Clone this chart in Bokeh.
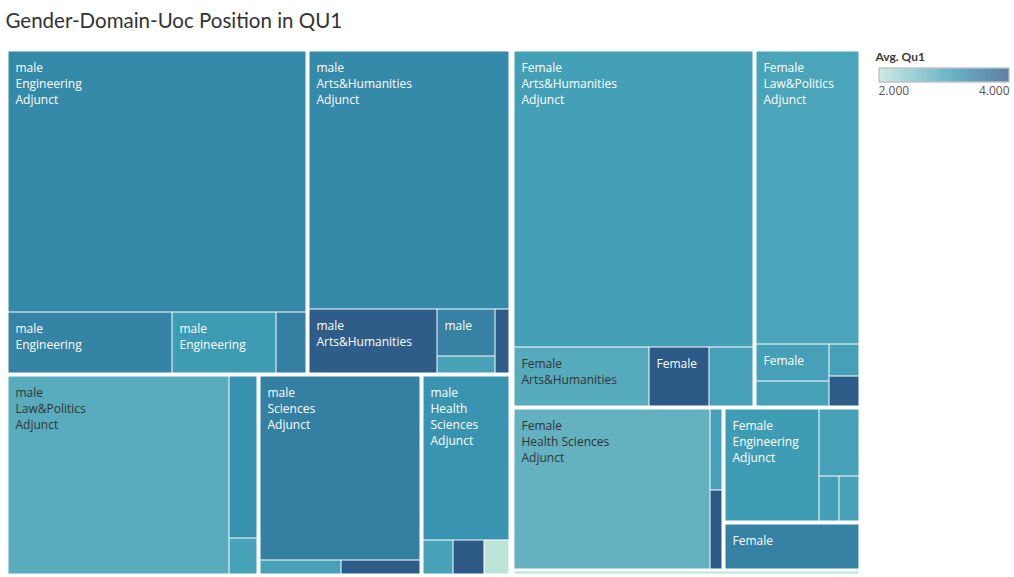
import math
from bokeh.plotting import figure
from bokeh.models import Range1d, LinearColorMapper, ColumnDataSource
from bokeh.core.properties import value
from bokeh.embed import file_html
from bokeh.resources import INLINE

# ---------------- data ----------------
genders = ["male"] * 19 + ["Female"] * 17 + ["Other"]
domains = (["Engineering"] * 4 + ["Arts&Humanities"] * 5 + ["Law&Politics"] * 3
           + ["Sciences"] * 3 + ["Health Sciences"] * 4
           + ["Arts&Humanities"] * 4 + ["Law&Politics"] * 5 + ["Health Sciences"] * 3
           + ["Engineering"] * 4 + ["Sciences"] * 1
           + ["Arts&Humanities"])
positions = (["Adjunct", "Assistant", "Associate", "Professor"]
             + ["Adjunct", "Assistant", "Associate", "Professor", "Lecturer"]
             + ["Adjunct", "Assistant", "Associate"]
             + ["Adjunct", "Assistant", "Associate"]
             + ["Adjunct", "Assistant", "Associate", "Professor"]
             + ["Adjunct", "Assistant", "Associate", "Professor"]
             + ["Adjunct", "Assistant", "Associate", "Professor", "Lecturer"]
             + ["Adjunct", "Assistant", "Associate"]
             + ["Adjunct", "Assistant", "Associate", "Professor"]
             + ["Adjunct"]
             + ["Adjunct"])
sizes = [77740, 10269, 6552, 2016,
         52428, 8514, 2736, 1110, 1104,
         43780, 4890, 1080,
         30155, 1148, 1134,
         14850, 1065, 1055, 940,
         71788, 8361, 3635, 2848,
         30221, 2744, 1975, 985, 975,
         32472, 1110, 1104,
         10935, 2720, 932, 928,
         6707,
         694]
avg_qu1 = [3.33, 3.40, 3.10, 3.47,
           3.33, 3.93, 3.42, 2.99, 3.95,
           2.84, 3.22, 2.99,
           3.45, 2.99, 3.95,
           3.18, 2.99, 4.00, 2.00,
           3.03, 2.86, 3.98, 3.00,
           2.95, 3.00, 2.99, 3.00, 3.95,
           2.76, 3.00, 3.98,
           3.08, 3.00, 3.02, 3.00,
           3.42,
           2.00]

title_text = "Gender-Domain-Uoc Position in QU1"
legend_title = "Avg. Qu1"
legend_low, legend_high = 2.0, 4.0
legend_tick_labels = ["2.000", "4.000"]

# Tableau "Blue-Teal" sequential ramp
ramp = ["#bce4d8", "#aedcd5", "#a1d5d2", "#95cecf", "#89c8cc", "#7ec1ca", "#72bac6",
        "#66b2c2", "#59acbe", "#4ba5ba", "#419eb6", "#3b96b2", "#358ead", "#3586a7",
        "#347ea1", "#32779b", "#316f96", "#2f6790", "#2d608a", "#2c5985"]


def hex2rgb(h):
    h = h.lstrip("#")
    return tuple(int(h[i:i + 2], 16) for i in (0, 2, 4))


def build_palette(stops, n=256):
    rgb = [hex2rgb(s) for s in stops]
    out = []
    for k in range(n):
        f = k / (n - 1) * (len(rgb) - 1)
        i = min(int(f), len(rgb) - 2)
        t = f - i
        c = [round(rgb[i][j] + (rgb[i + 1][j] - rgb[i][j]) * t) for j in range(3)]
        out.append("#%02x%02x%02x" % tuple(c))
    return out


palette = build_palette(ramp)
mapper = LinearColorMapper(palette=palette, low=legend_low, high=legend_high)

# ---------------- squarified layout ----------------
T_ASPECT = 3.52
W, H = 1014, 576
BOX = (8.0, 51.0, 850.0, 522.0)   # x, y, w, h (pixel units, y downward)


def worst(vals, L):
    t = sum(vals) / L
    r = 0.0
    for a in vals:
        l = a / t
        r = max(r, t / l, l / t)
    return r


def squarify(vals, rect):
    x, y, w, h = rect
    scale = w * h / sum(vals)
    areas = [v * scale for v in vals]
    out = []
    i = 0
    while i < len(areas):
        L = min(w, h)
        row = [areas[i]]
        j = i + 1
        while j < len(areas):
            cand = row + [areas[j]]
            if worst(cand, L) <= max(worst(row, L), T_ASPECT):
                row = cand
                j += 1
            else:
                break
        s = sum(row)
        if w <= h:
            t = s / w
            cx = x
            for a in row:
                lw = a / t
                out.append((cx, y, lw, t))
                cx += lw
            y += t
            h -= t
        else:
            t = s / h
            cy = y
            for a in row:
                lh = a / t
                out.append((x, cy, t, lh))
                cy += lh
            x += t
            w -= t
        i = j
    return out


tree = {}
for idx, (g, d) in enumerate(zip(genders, domains)):
    tree.setdefault(g, {}).setdefault(d, []).append(idx)


def gsum(g):
    return sum(sizes[i] for d in tree[g] for i in tree[g][d])


placed = []  # (leaf index, leaf rect, domain rect, gender rect)
g_names = sorted(tree, key=lambda g: -gsum(g))
for g, grect in zip(g_names, squarify([gsum(g) for g in g_names], BOX)):
    d_names = sorted(tree[g], key=lambda d: -sum(sizes[i] for i in tree[g][d]))
    d_rects = squarify([sum(sizes[i] for i in tree[g][d]) for d in d_names], grect)
    for d, drect in zip(d_names, d_rects):
        leaves = sorted(tree[g][d], key=lambda i: -sizes[i])
        l_rects = squarify([sizes[i] for i in leaves], drect)
        for i, lrect in zip(leaves, l_rects):
            placed.append((i, lrect, drect, grect))


def edges(r):
    x, y, w, h = r
    return x, y, x + w, y + h


def rnd(v):
    return math.floor(v + 0.5)


def near(a, b):
    return abs(a - b) < 0.01


def gap_at(v, dvals, gvals, ovals):
    if any(near(v, o) for o in ovals):
        return 0
    if any(near(v, q) for q in gvals):
        return 6
    if any(near(v, q) for q in dvals):
        return 4
    return 1


ob = edges(BOX)
cells = dict(left=[], right=[], top=[], bottom=[], qu1=[])
labels = dict(x=[], y=[], text=[], color=[])

CW = {'a': 6.6, 'b': 7.3, 'c': 5.7, 'd': 7.3, 'e': 6.7, 'f': 4.0, 'g': 6.5, 'h': 7.3,
      'i': 3.1, 'j': 3.1, 'k': 6.3, 'l': 3.1, 'm': 11.1, 'n': 7.3, 'o': 7.2, 'p': 7.3,
      'q': 7.3, 'r': 4.8, 's': 5.7, 't': 4.3, 'u': 7.3, 'v': 6.2, 'w': 9.4, 'x': 6.3,
      'y': 6.2, 'z': 5.6, ' ': 3.1, '&': 8.8, '-': 3.9, '.': 3.2, 'A': 7.8, 'E': 6.8,
      'F': 6.3, 'H': 9.1, 'L': 6.2, 'P': 7.2, 'S': 6.5, 'M': 11.2, 'I': 3.5}


def tw(s):
    return sum(CW.get(c, 7.8) for c in s)


def fit_lines(parts, w, h):
    lines = []
    for part in parts:
        if tw(part) + 14 <= w:
            lines.append(part)
            continue
        words = part.split(" ")
        if any(tw(wd) + 14 > w for wd in words):
            break
        cur = words[0]
        for wd in words[1:]:
            if tw(cur + " " + wd) + 14 <= w:
                cur = cur + " " + wd
            else:
                lines.append(cur)
                cur = wd
        lines.append(cur)
    max_n = int((h - 17) // 16) if h >= 33 else 0
    return lines[:max_n]


for i, lr, dr, gr in placed:
    L, T_, R, B = edges(lr)
    de = edges(dr)
    ge = edges(gr)
    gx = lambda v: gap_at(v, (de[0], de[2]), (ge[0], ge[2]), (ob[0], ob[2]))
    gy = lambda v: gap_at(v, (de[1], de[3]), (ge[1], ge[3]), (ob[1], ob[3]))
    x0 = rnd(L) + math.ceil(gx(L) / 2)
    x1 = rnd(R) - gx(R) // 2
    y0 = rnd(T_) + math.ceil(gy(T_) / 2)
    y1 = rnd(B) - gy(B) // 2
    if x1 - x0 < 1:
        x0, x1 = rnd(L), max(rnd(R), rnd(L) + 1)
    if y1 - y0 < 1:
        y0, y1 = rnd(T_), max(rnd(B), rnd(T_) + 1)
    cells["left"].append(x0)
    cells["right"].append(x1)
    cells["top"].append(y0)
    cells["bottom"].append(y1)
    cells["qu1"].append(avg_qu1[i])
    lines = fit_lines([genders[i], domains[i], positions[i]], x1 - x0, y1 - y0)
    col = "#333333" if avg_qu1[i] < 2.9 else "#ffffff"
    for k, ln in enumerate(lines):
        labels["x"].append(x0 + 7)
        labels["y"].append(y0 + 15.5 + 16 * k)
        labels["text"].append(ln)
        labels["color"].append(col)

# ---------------- figure ----------------
p = figure(width=W, height=H, x_range=Range1d(0, W), y_range=Range1d(H, 0),
           output_backend="svg", toolbar_location=None, min_border=0,
           x_axis_location=None, y_axis_location=None, title=None)
p.grid.visible = False
p.outline_line_color = None
p.background_fill_color = "white"
p.border_fill_color = "white"

p.quad(left="left", right="right", top="top", bottom="bottom",
       source=ColumnDataSource(cells),
       fill_color={"field": "qu1", "transform": mapper}, line_color=None)

p.text(x="x", y="y", text="text", source=ColumnDataSource(labels),
       text_color="color", text_font=value("Open Sans"), text_font_size="12px",
       text_baseline="alphabetic", text_align="left")

# title
p.text(x=[5], y=[19.5], text=[title_text], text_font=value("Lato"),
       text_font_size="20.5px", text_color="#333333", text_baseline="alphabetic")

# legend (continuous colour bar)
LX0, LX1, LY0, LY1 = 879, 1008, 68, 81
n_steps = LX1 - LX0
grad = dict(left=[LX0 + k for k in range(n_steps)],
            right=[LX0 + k + 1 for k in range(n_steps)],
            val=[legend_low + (legend_high - legend_low) * (k + 0.5) / n_steps
                 for k in range(n_steps)])
p.quad(left="left", right="right", top=LY0, bottom=LY1, source=ColumnDataSource(grad),
       fill_color={"field": "val", "transform": mapper}, line_color=None)
p.quad(left=[LX0 - 0.5], right=[LX1 + 0.5], top=[LY0 - 0.5], bottom=[LY1 + 0.5],
       fill_color=None, line_color="#a8a8a8", line_width=1)
p.text(x=[875], y=[56], text=[legend_title], text_font=value("Lato"),
       text_font_size="12px", text_font_style="bold", text_color="#3a3a3a",
       text_baseline="alphabetic")
p.text(x=[LX0 - 1], y=[90], text=[legend_tick_labels[0]], text_font=value("Open Sans"),
       text_font_size="12px", text_color="#555555", text_baseline="alphabetic",
       text_align="left")
p.text(x=[LX1 + 1], y=[90], text=[legend_tick_labels[1]], text_font=value("Open Sans"),
       text_font_size="12px", text_color="#555555", text_baseline="alphabetic",
       text_align="right")

open("out.html", "w").write(file_html(p, INLINE))
